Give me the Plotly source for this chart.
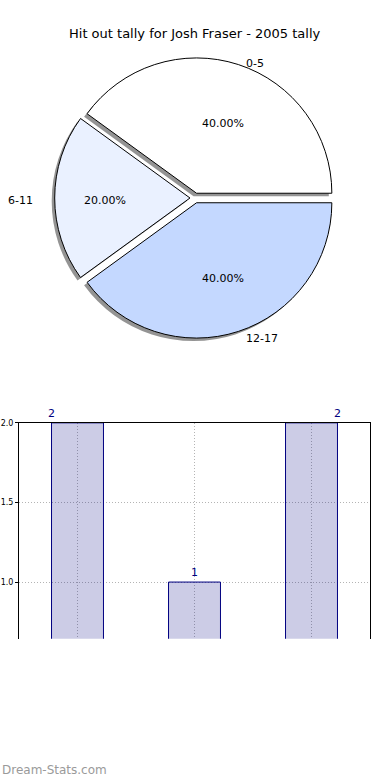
import math
import plotly.graph_objects as go

# ---- data ----
title_text = "Hit out tally for Josh Fraser - 2005 tally"
categories = ["0-5", "6-11", "12-17"]
tally = [2, 1, 2]
slice_colors = ["#FFFFFF", "#EAF1FF", "#C4D8FF"]
y_ticks = [1.0, 1.5, 2.0]
watermark = "Dream-Stats.com"

W, H = 390, 780
FONT = "DejaVu Sans"

# pie geometry (pixels)
cx, cy = 195, 198
pie_dy = -3
r = 136
pull = 0.037
half_box = r * (1 + pull)
total = sum(tally)
# plotly places the first counterclockwise slice clockwise of 'rotation';
# put it so the first slice starts at 3 o'clock (matplotlib startangle=0)
rotation = 90 - 360 * tally[0] / total


def px_x(x):
    return x / W


def px_y(y):
    return 1 - y / H


fig = go.Figure()

# shadow pie
sx, sy = -3, 3
fig.add_trace(go.Pie(
    labels=categories, values=tally, sort=False, direction="counterclockwise",
    rotation=rotation, pull=[pull] * 3, textinfo="none", hoverinfo="skip",
    marker=dict(colors=["rgba(0,0,0,0.42)"] * 3, line=dict(width=0)),
    domain=dict(x=[px_x(cx + sx - half_box), px_x(cx + sx + half_box)],
                y=[px_y(cy + pie_dy + sy + half_box), px_y(cy + pie_dy + sy - half_box)]),
    showlegend=False,
))

# main pie
fig.add_trace(go.Pie(
    labels=categories, values=tally, sort=False, direction="counterclockwise",
    rotation=rotation, pull=[pull] * 3, textinfo="none",
    marker=dict(colors=slice_colors, line=dict(color="black", width=1)),
    domain=dict(x=[px_x(cx - half_box), px_x(cx + half_box)],
                y=[px_y(cy + pie_dy + half_box), px_y(cy + pie_dy - half_box)]),
    showlegend=False,
))

annotations = []
annotations.append(dict(text=title_text, x=px_x(195), y=px_y(30), xref="paper", yref="paper",
                        xanchor="center", yanchor="middle",
                        showarrow=False, font=dict(family=FONT, size=13, color="black")))

start = 0.0
rx_l, ry_l = 141, 128
for lab, v in zip(categories, tally):
    frac = v / total
    mid = (start + frac / 2) * 2 * math.pi
    start += frac
    ox = cx + pull * r * math.cos(mid)
    oy = cy - pull * r * math.sin(mid)
    # percentage
    px = ox + 0.6 * rx_l * math.cos(mid)
    py = oy - 0.6 * ry_l * math.sin(mid)
    annotations.append(dict(text=f"{frac*100:.2f}%", x=px_x(px), y=px_y(py), xref="paper", yref="paper",
                            xanchor="center", yanchor="middle",
                            showarrow=False, font=dict(family=FONT, size=11, color="black")))
    lx = ox + 1.1 * rx_l * math.cos(mid)
    ly = oy - 1.1 * ry_l * math.sin(mid)
    annotations.append(dict(text=lab, x=px_x(lx), y=px_y(ly), xref="paper", yref="paper",
                            xanchor="left" if math.cos(mid) > 0 else "right", yanchor="middle",
                            showarrow=False, font=dict(family=FONT, size=11, color="black")))

# bar chart
fig.add_trace(go.Bar(
    x=categories, y=tally, width=0.444, xaxis="x2", yaxis="y2",
    marker=dict(color="rgba(0,0,128,0.2)", line=dict(color="#000080", width=1)),
    showlegend=False, hoverinfo="x+y",
))

label_shift = [-26, 0, 26]
for c, v, s in zip(categories, tally, label_shift):
    annotations.append(dict(text=str(v), x=c, y=v, xref="x2", yref="y2", xshift=s, yshift=1,
                            xanchor="center", yanchor="bottom", showarrow=False,
                            font=dict(family=FONT, size=11, color="#000080")))

annotations.append(dict(text=watermark, x=0, y=px_y(770), xref="paper", yref="paper",
                        xanchor="left", yanchor="middle", showarrow=False,
                        font=dict(family=FONT, size=12, color="#9a9a9a")))

grid_style = dict(showgrid=True, gridcolor="#b4b4b4", griddash="1px,2px", gridwidth=1)

fig.update_layout(
    width=W, height=H,
    margin=dict(l=0, r=0, t=0, b=0),
    paper_bgcolor="white", plot_bgcolor="white",
    annotations=annotations,
    xaxis2=dict(domain=[px_x(19), px_x(370)], anchor="y2", type="category",
                range=[-0.5, 2.5], side="top", showticklabels=False,
                showline=True, linecolor="black", linewidth=1,
                ticks="", zeroline=False, fixedrange=True, **grid_style),
    yaxis2=dict(domain=[px_y(638), px_y(421)], anchor="x2",
                range=[0.644, 2.0], tickvals=y_ticks, tickformat=".1f",
                showline=True, mirror=True, linecolor="black", linewidth=1,
                ticks="outside", ticklen=3, tickcolor="black",
                tickfont=dict(family=FONT, size=8, color="black"),
                zeroline=False, fixedrange=True, **grid_style),
)

fig.write_html("out.html", config={"displayModeBar": False},
               post_script="document.body.style.margin='0';")
